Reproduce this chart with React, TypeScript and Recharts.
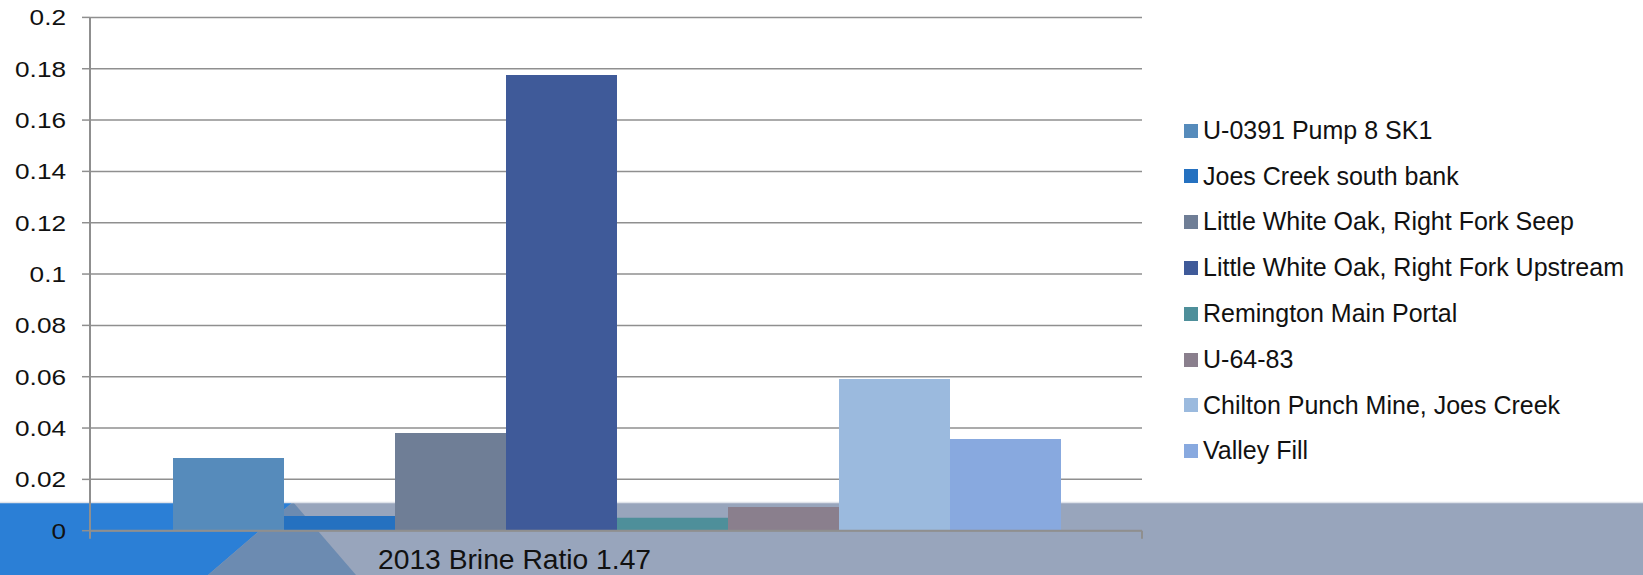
import { Bar, BarChart, CartesianGrid, XAxis, YAxis } from 'recharts';

const categories = ['2013 Brine Ratio 1.47'];

const seriesNames = [
  'U-0391 Pump 8 SK1',
  'Joes Creek south bank',
  'Little White Oak, Right Fork Seep',
  'Little White Oak, Right Fork Upstream',
  'Remington Main Portal',
  'U-64-83',
  'Chilton Punch Mine, Joes Creek',
  'Valley Fill',
];

const seriesValues = [0.0283, 0.0057, 0.0381, 0.1776, 0.005, 0.0092, 0.0591, 0.0357];

const seriesColors = ['#568bbb', '#2571c0', '#6f7e96', '#3f5a99', '#4e8f9a', '#8a7f8d', '#9bbade', '#88a9df'];

const yTicks = [0, 0.02, 0.04, 0.06, 0.08, 0.1, 0.12, 0.14, 0.16, 0.18, 0.2];

const W = 1643;
const H = 575;
const PLOT_LEFT = 90;
const PLOT_RIGHT = 1142;
const PLOT_W = PLOT_RIGHT - PLOT_LEFT;
const FONT = '"Liberation Sans", Arial, sans-serif';
const AXIS_GRAY = '#8f8f8f';

const data = categories.map((name) => {
  const row: Record<string, string | number> = { name };
  seriesNames.forEach((s, i) => {
    row[`s${i}`] = seriesValues[i];
  });
  return row;
});

function YTick({ x, y, payload }: any) {
  return (
    <text
      x={0}
      y={0}
      transform={`translate(${x},${y}) scale(1.19,1)`}
      textAnchor="end"
      dy="0.355em"
      fontFamily={FONT}
      fontSize={22}
      fill="#111"
    >
      {payload.value}
    </text>
  );
}

// category label sits left of centre; ticks mark the category edges
function XTick({ x, y, payload }: any) {
  const half = PLOT_W / 2;
  return (
    <g>
      <line x1={x - half} x2={x - half} y1={y} y2={y + 8} stroke={AXIS_GRAY} strokeWidth={2} />
      <line x1={x + half} x2={x + half} y1={y} y2={y + 8} stroke={AXIS_GRAY} strokeWidth={2} />
      <text
        x={0}
        y={0}
        transform={`translate(${x - 238},${y + 38}) scale(1.027,1)`}
        textAnchor="start"
        fontFamily={FONT}
        fontSize={27.5}
        fill="#111"
      >
        {payload.value}
      </text>
    </g>
  );
}

// slide backdrop: white top, blue / slate band with a wedge along the bottom
function Backdrop() {
  return (
    <svg width={W} height={H} style={{ position: 'absolute', left: 0, top: 0 }}>
      <rect x={0} y={0} width={W} height={H} fill="#ffffff" />
      <rect x={0} y={502} width={W} height={H - 502} fill="#98a5bc" />
      <polygon points={`0,502 293,502 208,${H} 0,${H}`} fill="#2b7fd6" />
      <polygon points={`293,502 208,${H} 356,${H}`} fill="#6c8bb1" />
      <line x1={0} x2={W} y1={502.5} y2={502.5} stroke="#dfe3ea" strokeWidth={1.5} />
    </svg>
  );
}

function LegendList() {
  return (
    <div style={{ position: 'absolute', left: 1184, top: 107.8, fontFamily: FONT, fontSize: 25, color: '#111' }}>
      {seriesNames.map((name, i) => (
        <div key={name} style={{ display: 'flex', alignItems: 'center', height: 45.8, lineHeight: '45.8px', whiteSpace: 'nowrap' }}>
          <span style={{ display: 'inline-block', width: 14, height: 14, background: seriesColors[i], marginRight: 5 }} />
          {name}
        </div>
      ))}
    </div>
  );
}

export default function App() {
  return (
    <div style={{ position: 'absolute', left: 0, top: 0, width: W, height: H, overflow: 'hidden' }}>
      <Backdrop />
      <div style={{ position: 'absolute', left: 0, top: 0 }}>
        <BarChart
          width={W}
          height={H}
          data={data}
          margin={{ top: 17.4, right: W - PLOT_RIGHT, bottom: 0, left: 0 }}
          barCategoryGap={83}
          barGap={0}
        >
          <CartesianGrid vertical={false} stroke={AXIS_GRAY} strokeWidth={1.5} />
          <XAxis
            dataKey="name"
            height={44.3}
            axisLine={{ stroke: AXIS_GRAY, strokeWidth: 2 }}
            tickLine={false}
            tickSize={0}
            tickMargin={0}
            tick={<XTick />}
          />
          <YAxis
            width={PLOT_LEFT}
            domain={[0, 0.2]}
            ticks={yTicks}
            axisLine={{ stroke: AXIS_GRAY, strokeWidth: 2 }}
            tickLine={{ stroke: AXIS_GRAY, strokeWidth: 1.5 }}
            tickSize={8}
            tickMargin={16}
            tick={<YTick />}
          />
          {seriesNames.map((name, i) => (
            <Bar key={name} dataKey={`s${i}`} name={name} fill={seriesColors[i]} isAnimationActive={false} />
          ))}
        </BarChart>
      </div>
      <LegendList />
    </div>
  );
}
